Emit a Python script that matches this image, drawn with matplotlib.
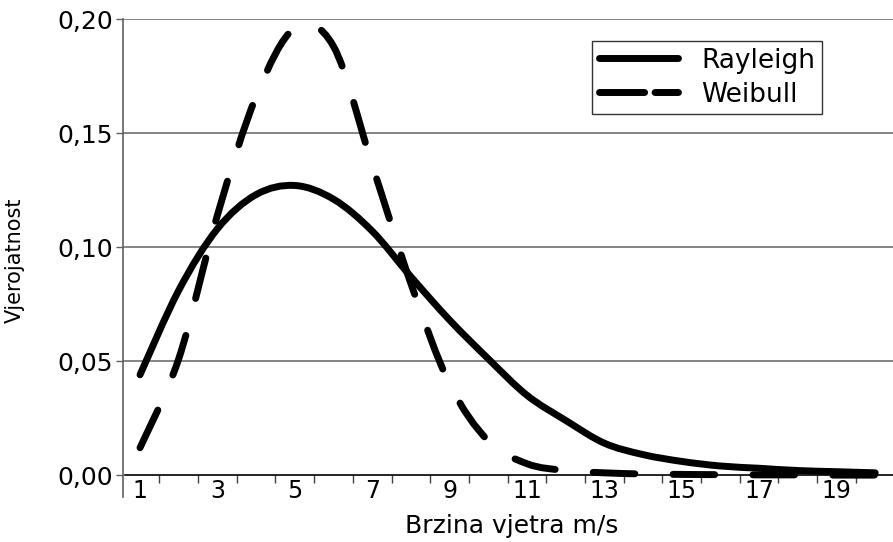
import matplotlib.pyplot as plt
from matplotlib.path import Path
from matplotlib.patches import PathPatch
from matplotlib.lines import Line2D
import numpy as np

brzina = [1, 2, 3, 4, 5, 6, 7, 8, 9, 10, 11, 12, 13, 14, 15, 16, 17, 18, 19, 20]
rayleigh = [0.044, 0.081, 0.108, 0.123, 0.127, 0.121, 0.107, 0.087, 0.068, 0.051,
            0.035, 0.024, 0.014, 0.009, 0.006, 0.004, 0.003, 0.002, 0.0015, 0.001]
weibull = [0.012, 0.051, 0.114, 0.166, 0.196, 0.188, 0.136, 0.084, 0.040, 0.015,
           0.005, 0.002, 0.001, 0.0005, 0.0003, 0.0002, 0.0001, 0.0001, 0.0, 0.0]
x_labels = [1, 3, 5, 7, 9, 11, 13, 15, 17, 19]
y_ticks = [0.00, 0.05, 0.10, 0.15, 0.20]


def smooth_path(xs, ys):
    # smoothed line (like Excel) as bezier path through the data points
    p = np.column_stack([xs, ys]).astype(float)
    pts = np.vstack([p[0], p, p[-1]])
    verts = [p[0]]
    codes = [Path.MOVETO]
    for i in range(1, len(pts) - 2):
        c1 = pts[i] + (pts[i + 1] - pts[i - 1]) / 6
        c2 = pts[i + 1] - (pts[i + 2] - pts[i]) / 6
        verts += [c1, c2, pts[i + 1]]
        codes += [Path.CURVE4] * 3
    return Path(verts, codes)


fig = plt.figure(figsize=(8.93, 5.42), dpi=100)
ax = fig.add_axes([123 / 893, 45 / 542, 770 / 893, 478 / 542])

for yv in y_ticks[1:]:
    ax.axhline(yv, color='#707070', lw=1.2, zorder=1)

lw = 5
solid = PathPatch(smooth_path(brzina, rayleigh), fill=False, ec='black', lw=lw,
                  capstyle='round', joinstyle='round', zorder=3)
dashed = PathPatch(smooth_path(brzina, weibull), fill=False, ec='black', lw=lw,
                   linestyle=(0, (6, 5.5)), capstyle='round', joinstyle='round', zorder=3)
ax.add_patch(solid)
ax.add_patch(dashed)

ax.set_xlim(0.56, 20.46)
ax.set_ylim(-0.0096, 0.2)

ax.spines['top'].set_visible(False)
ax.spines['right'].set_visible(False)
ax.spines['bottom'].set_position(('data', 0))
ax.spines['bottom'].set_bounds(0.62, 20.46)
ax.spines['bottom'].set_linewidth(1.2)
ax.spines['left'].set_color('#606060')
ax.spines['left'].set_linewidth(1.2)

ax.set_xticks(x_labels)
ax.set_xticklabels([str(v) for v in x_labels], fontsize=17)
ax.tick_params(axis='x', which='major', length=0, pad=3)
ax.set_xticks(np.arange(1.5, 20.5, 1), minor=True)
ax.tick_params(axis='x', which='minor', length=6, width=1, color='#404040', direction='out')

ax.set_yticks(y_ticks)
ax.set_yticklabels([f'{v:.2f}'.replace('.', ',') for v in y_ticks], fontsize=18)
ax.tick_params(axis='y', length=5, width=1, color='#606060', pad=2)

ax.set_xlabel('Brzina vjetra m/s', fontsize=18)
ax.xaxis.set_label_coords(0.505, -0.036)
ax.set_ylabel('Vjerojatnost', fontsize=15)
ax.yaxis.set_label_coords(-0.128, 0.496)

handles = [Line2D([], [], color='black', lw=lw, solid_capstyle='round'),
           Line2D([], [], color='black', lw=lw, linestyle=(0, (6.5, 1.5)), dash_capstyle='round')]
leg = ax.legend(handles, ['Rayleigh', 'Weibull'], loc='upper left',
                bbox_to_anchor=(0.609, 0.954), borderaxespad=0, fontsize=19,
                frameon=True, fancybox=False, handlelength=3.0, handletextpad=0.9,
                labelspacing=0.3, borderpad=0.25)
leg.get_frame().set_edgecolor('black')
leg.get_frame().set_linewidth(1)

fig.savefig('out.png', dpi=100)
